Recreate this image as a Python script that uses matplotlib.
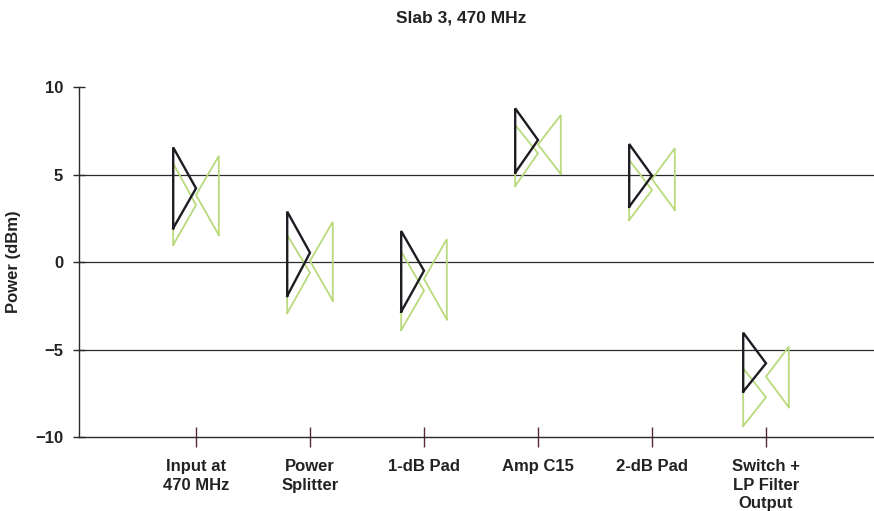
import matplotlib
matplotlib.use("Agg")
import matplotlib.pyplot as plt
import numpy as np

plt.rcParams['font.family'] = ['Liberation Sans', 'DejaVu Sans']

categories = ["Input at\n470 MHz", "Power\nSplitter", "1-dB Pad", "Amp C15",
              "2-dB Pad", "Switch +\nLP Filter\nOutput"]

# dark triangle (pointing right): low, high, apex value
dark_high = [6.55, 2.88, 1.77, 8.78, 6.74, -4.04]
dark_low = [1.93, -1.94, -2.84, 5.10, 3.16, -7.41]
dark_mid = [4.21, 0.53, -0.50, 6.97, 4.93, -5.79]
# green triangle pointing right
green_r_high = [5.64, 1.54, 0.59, 7.83, 5.83, -6.08]
green_r_low = [0.97, -2.93, -3.89, 4.34, 2.40, -9.37]
green_r_mid = [3.26, -0.61, -1.64, 6.21, 4.11, -7.73]
# green triangle pointing left
green_l_high = [6.06, 2.30, 1.31, 8.40, 6.50, -4.84]
green_l_low = [1.54, -2.21, -3.28, 5.03, 2.97, -8.30]
green_l_mid = [3.83, 0.06, -0.97, 6.71, 4.74, -6.55]

yticks = [-10, -5, 0, 5, 10]
ytick_labels = ["\u221210", "\u22125", "0", "5", "10"]

W, H = 874, 511
fig = plt.figure(figsize=(W / 100, H / 100), dpi=100)
ax = fig.add_axes([79 / W, 1 - 437 / H, (874 - 79) / W, (437 - 87) / H])

dark = '#1c1c22'
green = '#b9da7c'
half = 0.2
pos = np.arange(len(categories))

for i in pos:
    # green right-pointing
    ax.plot([i - half, i - half, i, i - half],
            [green_r_low[i], green_r_high[i], green_r_mid[i], green_r_low[i]],
            color=green, lw=1.3, zorder=3, solid_joinstyle='miter')
    # green left-pointing
    ax.plot([i + half, i + half, i, i + half],
            [green_l_low[i], green_l_high[i], green_l_mid[i], green_l_low[i]],
            color=green, lw=1.3, zorder=3, solid_joinstyle='miter')
    # dark right-pointing
    ax.plot([i - half, i - half, i, i - half],
            [dark_low[i], dark_high[i], dark_mid[i], dark_low[i]],
            color=dark, lw=1.7, zorder=4, solid_joinstyle='miter')

for y in [5, 0, -5]:
    ax.axhline(y, color='#2a2a2a', lw=0.9, zorder=2)

ax.set_xlim(-117 / 114, 678 / 114)
ax.set_ylim(-10, 10)
for s in ['top', 'right']:
    ax.spines[s].set_visible(False)
for s in ['left', 'bottom']:
    ax.spines[s].set_color('#2a2a2a')
    ax.spines[s].set_linewidth(1.0)

ax.set_xticks(pos)
ax.set_xticklabels(categories, fontsize=12, fontweight='bold', color='#222222',
                   linespacing=1.3, va='top')
ax.set_yticks(yticks)
ax.set_yticklabels(ytick_labels, fontsize=12, fontweight='bold', color='#222222')
ax.tick_params(axis='x', direction='inout', length=14, width=1.0, color='#5a2a3a', pad=9)
ax.tick_params(axis='y', direction='inout', length=9, width=1.0, color='#2a2a2a', pad=7)

ax.set_ylabel("Power (dBm)", fontsize=12, fontweight='bold', color='#222222', labelpad=10)
fig.text(461 / W, 1 - 18 / H, "Slab 3, 470 MHz", ha='center', va='center',
         fontsize=12.5, fontweight='bold', color='#222222')

fig.savefig("out.png", dpi=100)
